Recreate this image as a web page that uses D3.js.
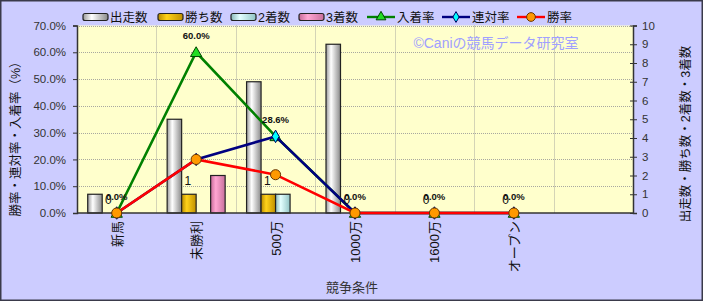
<!DOCTYPE html>
<meta charset="utf-8">
<html>
<head>
  <title>競争条件別成績</title>
  <script src="https://d3js.org/d3.v7.min.js"></script>
</head>
<style>
  body {margin: 0; background: #fff;}
  svg text {font-family: "Liberation Sans", "Noto Sans CJK JP", sans-serif;}
</style>
<body>
<script>

  // data
  var categories = ["新馬", "未勝利", "500万", "1000万", "1600万", "オープン", ""];
  var starts    = [1, 5, 7, 9, 0, 0, null];   // 出走数
  var wins      = [0, 1, 1, 0, 0, 0, null];   // 勝ち数
  var seconds   = [0, 0, 1, 0, 0, 0, null];   // 2着数
  var thirds    = [0, 2, 0, 0, 0, 0, null];   // 3着数
  var placeRate = [0, 60, 28.6, 0, 0, 0, null];   // 入着率
  var rentaiRate = [0, 20, 28.6, 0, 0, 0, null];  // 連対率
  var winRate   = [0, 20, 14.3, 0, 0, 0, null];   // 勝率
  var leftTicks = [0, 10, 20, 30, 40, 50, 60, 70];
  var rightTicks = [0, 1, 2, 3, 4, 5, 6, 7, 8, 9, 10];

  var W = 703, H = 301;
  var pLeft = 77, pRight = 633, pTop = 25.5, pBottom = 213;

  var svg = d3.select("body").append("svg")
      .attr("width", W)
      .attr("height", H);

  //gradients for the bars
  var defs = svg.append("defs");
  function grad(id, edge, light, edge2) {
    var g = defs.append("linearGradient").attr("id", id)
      .attr("x1", "0%").attr("x2", "100%").attr("y1", "0%").attr("y2", "0%");
    g.append("stop").attr("offset", "0%").attr("stop-color", edge);
    g.append("stop").attr("offset", "35%").attr("stop-color", light);
    g.append("stop").attr("offset", "100%").attr("stop-color", edge2);
  }
  grad("g-start", "#9a9a9a", "#ffffff", "#8a8a8a");
  grad("g-win", "#b88a00", "#ffd21a", "#c09000");
  grad("g-second", "#88b8b8", "#e4ffff", "#90c4c4");
  grad("g-third", "#c66a98", "#ffa6d2", "#c8709c");

  //background
  svg.append("rect").attr("x", 0.75).attr("y", 0.75)
    .attr("width", W - 1.5).attr("height", H - 1.5)
    .attr("fill", "#ccccff").attr("stroke", "#3a3a4a").attr("stroke-width", 1.5);
  svg.append("rect").attr("x", pLeft).attr("y", pTop)
    .attr("width", pRight - pLeft).attr("height", pBottom - pTop)
    .attr("fill", "#ffffcc");

  //scales
  var x0 = d3.scaleBand().domain(d3.range(categories.length)).range([pLeft, pRight]);
  var bw = x0.bandwidth();
  var seriesBars = [
    {key: "出走数", values: starts, fill: "url(#g-start)"},
    {key: "勝ち数", values: wins, fill: "url(#g-win)"},
    {key: "2着数", values: seconds, fill: "url(#g-second)"},
    {key: "3着数", values: thirds, fill: "url(#g-third)"}
  ];
  var x1 = d3.scaleBand().domain(seriesBars.map(function (s) {return s.key;}))
    .range([bw / 2 - 29, bw / 2 + 29]);
  var yL = d3.scaleLinear().domain([0, 70]).range([pBottom, pTop]);
  var yR = d3.scaleLinear().domain([0, 10]).range([pBottom, pTop]);

  //grid
  var grid = svg.append("g").attr("stroke", "#a8a8a0").attr("stroke-dasharray", "1,1");
  grid.selectAll("line.h").data(leftTicks.slice(1)).enter().append("line")
    .attr("x1", pLeft).attr("x2", pRight)
    .attr("y1", function (d) {return Math.round(yL(d)) + 0.5;})
    .attr("y2", function (d) {return Math.round(yL(d)) + 0.5;});
  grid.selectAll("line.v").data(d3.range(1, categories.length)).enter().append("line")
    .attr("x1", function (d) {return Math.round(x0(d)) + 0.5;})
    .attr("x2", function (d) {return Math.round(x0(d)) + 0.5;})
    .attr("y1", pTop).attr("y2", pBottom);

  //bars
  seriesBars.forEach(function (s) {
    svg.append("g").selectAll("rect")
      .data(s.values.map(function (v, i) {return {i: i, v: v};}).filter(function (d) {return d.v > 0;}))
      .enter().append("rect")
        .attr("x", function (d) {return x0(d.i) + x1(s.key);})
        .attr("y", function (d) {return yR(d.v);})
        .attr("width", x1.bandwidth())
        .attr("height", function (d) {return yR(0) - yR(d.v);})
        .attr("fill", s.fill)
        .attr("stroke", "#222")
        .attr("stroke-width", 1.2);
  });

  //axes
  var axisL = svg.append("g").attr("transform", "translate(" + pLeft + ",0)")
    .call(d3.axisLeft(yL).tickValues(leftTicks).tickSize(4)
      .tickFormat(function (d) {return d.toFixed(1) + "%";}));
  var axisR = svg.append("g").attr("transform", "translate(" + pRight + ",0)")
    .call(d3.axisRight(yR).tickValues(rightTicks).tickSize(4).tickFormat(d3.format("d")));
  [axisL, axisR].forEach(function (a) {
    a.select(".domain").attr("stroke", "#333").attr("stroke-width", 1.5);
    a.selectAll(".tick line").attr("stroke", "#333");
    a.selectAll(".tick text").attr("fill", "#333").attr("font-size", 11.5)
      .attr("font-family", "Liberation Sans, sans-serif");
  });
  axisL.selectAll(".tick text").attr("x", -11);
  axisR.selectAll(".tick text").attr("x", 9);
  axisR.selectAll(".tick line").attr("x1", -3);

  svg.append("line").attr("x1", pLeft).attr("x2", pRight)
    .attr("y1", pBottom).attr("y2", pBottom)
    .attr("stroke", "#333").attr("stroke-width", 1.5);

  //category labels
  svg.append("g").selectAll("text").data(categories).enter().append("text")
    .attr("transform", function (d, i) {return "translate(" + (x0(i) + bw / 2 + 5) + ",221) rotate(-90)";})
    .attr("text-anchor", "end")
    .attr("font-size", 13)
    .attr("fill", "#111")
    .text(function (d) {return d;});

  //watermark
  svg.append("text").attr("x", 496).attr("y", 48)
    .attr("text-anchor", "middle").attr("font-size", 14).attr("fill", "#a0a0ff")
    .text("©Caniの競馬データ研究室");

  //lines
  var seriesLines = [
    {key: "入着率", values: placeRate, color: "#008000", marker: "tri", mfill: "#22dd22", mstroke: "#004400"},
    {key: "連対率", values: rentaiRate, color: "#000080", marker: "dia", mfill: "#00ffff", mstroke: "#000060"},
    {key: "勝率", values: winRate, color: "#ff0000", marker: "circ", mfill: "#ff9900", mstroke: "#663300"}
  ];
  var symbolType = {tri: d3.symbolTriangle, dia: d3.symbolDiamond, circ: d3.symbolCircle};
  var symbolSize = {tri: 55, dia: 45, circ: 80};
  var line = d3.line()
    .defined(function (d) {return d.v !== null;})
    .x(function (d) {return x0(d.i) + bw / 2;})
    .y(function (d) {return yL(d.v);});

  seriesLines.forEach(function (s) {
    var pts = s.values.map(function (v, i) {return {i: i, v: v};}).filter(function (d) {return d.v !== null;});
    svg.append("path").datum(pts)
      .attr("d", line)
      .attr("fill", "none")
      .attr("stroke", s.color)
      .attr("stroke-width", 2.6);
    svg.append("g").selectAll("path").data(pts).enter().append("path")
      .attr("transform", function (d) {
        var dy = s.marker === "tri" ? 1 : 0;
        return "translate(" + (x0(d.i) + bw / 2) + "," + (yL(d.v) + dy) + ")";})
      .attr("d", d3.symbol().type(symbolType[s.marker]).size(symbolSize[s.marker]))
      .attr("fill", s.mfill)
      .attr("stroke", s.mstroke)
      .attr("stroke-width", 1);
  });

  //data labels: 勝ち数
  svg.append("g").selectAll("text")
    .data(wins.map(function (v, i) {return {i: i, v: v};}).filter(function (d) {return d.v !== null;}))
    .enter().append("text")
      .attr("x", function (d) {return x0(d.i) + x1("勝ち数") + x1.bandwidth() / 2 - 1;})
      .attr("y", function (d) {return yR(d.v) - 9;})
      .attr("text-anchor", "middle")
      .attr("font-size", 12)
      .attr("fill", "#111")
      .text(function (d) {return d.v;});

  //data labels: 入着率
  svg.append("g").selectAll("text")
    .data(placeRate.map(function (v, i) {return {i: i, v: v};}).filter(function (d) {return d.v !== null;}))
    .enter().append("text")
      .attr("x", function (d) {return x0(d.i) + bw / 2;})
      .attr("y", function (d) {return yL(d.v) - 13;})
      .attr("text-anchor", "middle")
      .attr("font-size", 9.5)
      .attr("font-weight", "bold")
      .attr("fill", "#111")
      .text(function (d) {return d.v.toFixed(1) + "%";});

  //legend
  var legend = svg.append("g").attr("transform", "translate(0,17)");
  var barLegendX = [83, 158, 231, 299];
  seriesBars.forEach(function (s, i) {
    legend.append("rect").attr("x", barLegendX[i]).attr("y", -3.5)
      .attr("width", 25).attr("height", 7).attr("rx", 2)
      .attr("fill", s.fill).attr("stroke", "#222").attr("stroke-width", 1.2);
    legend.append("text").attr("x", barLegendX[i] + 27).attr("y", 4.5)
      .attr("font-size", 12.5).attr("fill", "#111").text(s.key);
  });
  var lineLegendX = [367, 442, 517];
  seriesLines.forEach(function (s, i) {
    legend.append("line").attr("x1", lineLegendX[i]).attr("x2", lineLegendX[i] + 28)
      .attr("stroke", s.color).attr("stroke-width", 2.4);
    legend.append("path")
      .attr("transform", "translate(" + (lineLegendX[i] + 14) + ",0)")
      .attr("d", d3.symbol().type(symbolType[s.marker]).size(symbolSize[s.marker] * 0.75))
      .attr("fill", s.mfill).attr("stroke", s.mstroke);
    legend.append("text").attr("x", lineLegendX[i] + 30).attr("y", 4.5)
      .attr("font-size", 12.5).attr("fill", "#111").text(s.key);
  });

  //axis titles
  svg.append("text").attr("transform", "translate(20,136) rotate(-90)")
    .attr("text-anchor", "middle").attr("font-size", 12.5).attr("fill", "#111")
    .text("勝率・連対率・入着率（%）");
  svg.append("text").attr("transform", "translate(690,134) rotate(-90)")
    .attr("text-anchor", "middle").attr("font-size", 12.5).attr("fill", "#111")
    .text("出走数・勝ち数・2着数・3着数");
  svg.append("text").attr("x", 352).attr("y", 292)
    .attr("text-anchor", "middle").attr("font-size", 13).attr("fill", "#333")
    .text("競争条件");

</script>
</body>
</html>
